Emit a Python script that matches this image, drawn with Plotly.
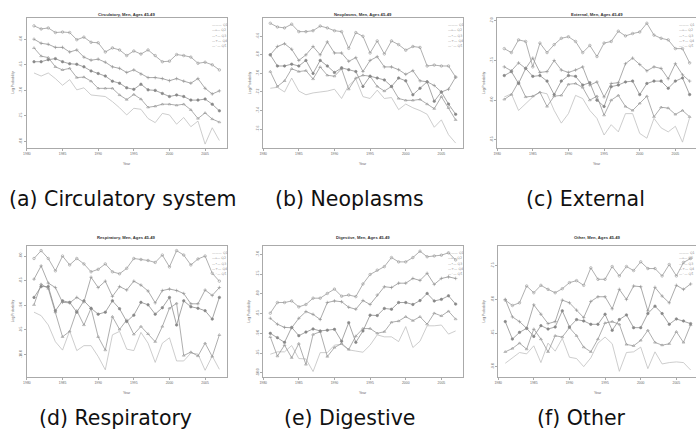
import plotly.graph_objects as go

W, H = 696, 440
years = list(range(1981, 2008))
quintiles = ["Q1", "Q2", "Q3", "Q4", "Q5"]
x_tickvals = [1980, 1985, 1990, 1995, 2000, 2005]

# ---------------- data (log probabilities) ----------------
circ_q1 = [-6.66,-6.72,-6.66,-6.77,-6.90,-6.79,-6.99,-6.95,-7.09,-7.11,-7.12,-7.22,-7.34,-7.48,-7.35,-7.37,-7.55,-7.63,-7.45,-7.48,-7.66,-7.53,-7.71,-7.60,-8.05,-7.73,-7.98]
circ_q2 = [-6.17,-6.33,-6.36,-6.54,-6.60,-6.57,-6.75,-6.74,-6.82,-6.96,-6.96,-6.96,-7.09,-7.18,-7.08,-7.17,-7.33,-7.31,-7.27,-7.27,-7.29,-7.27,-7.38,-7.55,-7.44,-7.56,-7.62]
circ_q3 = [-6.44,-6.44,-6.40,-6.38,-6.44,-6.48,-6.49,-6.54,-6.62,-6.67,-6.72,-6.82,-6.86,-6.95,-6.98,-6.88,-6.99,-7.00,-7.06,-7.12,-7.09,-7.12,-7.19,-7.19,-7.17,-7.27,-7.40]
circ_q4 = [-6.00,-6.08,-6.10,-6.16,-6.16,-6.25,-6.21,-6.35,-6.41,-6.39,-6.45,-6.54,-6.57,-6.65,-6.60,-6.68,-6.75,-6.75,-6.77,-6.81,-6.77,-6.82,-6.86,-6.77,-6.96,-7.07,-7.01]
circ_q5 = [-5.74,-5.80,-5.78,-5.87,-5.86,-5.87,-6.01,-5.96,-6.06,-6.07,-6.25,-6.17,-6.21,-6.32,-6.23,-6.29,-6.21,-6.32,-6.44,-6.43,-6.30,-6.32,-6.35,-6.47,-6.45,-6.50,-6.60]

neo_q1 = [-7.16,-7.15,-7.20,-7.05,-7.19,-7.23,-7.21,-7.20,-7.19,-7.17,-7.27,-7.13,-7.06,-7.25,-7.27,-7.18,-7.27,-7.26,-7.39,-7.33,-7.37,-7.40,-7.44,-7.58,-7.50,-7.66,-7.75]
neo_q2 = [-6.98,-7.14,-7.08,-6.95,-6.98,-6.97,-7.06,-6.93,-7.02,-7.03,-6.95,-7.17,-7.05,-7.02,-7.03,-7.14,-7.19,-7.14,-7.27,-7.29,-7.29,-7.28,-7.33,-7.38,-7.25,-7.37,-7.50]
neo_q3 = [-6.80,-6.92,-6.92,-6.90,-6.92,-6.86,-7.00,-6.86,-6.92,-6.99,-6.94,-6.96,-6.98,-7.14,-7.03,-7.05,-7.07,-7.14,-7.05,-7.08,-7.23,-7.16,-7.09,-7.30,-7.20,-7.33,-7.44]
neo_q4 = [-6.80,-6.71,-6.68,-6.74,-6.86,-6.80,-6.71,-6.80,-6.66,-6.78,-6.78,-6.87,-6.83,-6.98,-6.86,-6.82,-6.93,-6.93,-6.96,-7.01,-6.97,-7.08,-7.09,-7.13,-7.20,-7.17,-7.04]
neo_q5 = [-6.46,-6.50,-6.51,-6.47,-6.55,-6.55,-6.54,-6.49,-6.51,-6.54,-6.55,-6.73,-6.56,-6.60,-6.78,-6.65,-6.79,-6.65,-6.69,-6.75,-6.71,-6.72,-6.92,-6.91,-6.92,-6.92,-7.04]

ext_q1 = [-7.96,-7.92,-8.13,-8.04,-7.96,-7.90,-7.92,-8.13,-8.29,-8.17,-7.94,-7.98,-8.13,-8.23,-8.44,-8.31,-8.40,-8.17,-8.17,-8.42,-8.48,-8.23,-8.35,-8.40,-8.33,-8.53,-8.22]
ext_q2 = [-7.99,-7.93,-7.77,-7.96,-7.95,-7.90,-8.08,-7.95,-7.94,-7.80,-7.79,-7.84,-8.00,-7.95,-8.19,-8.00,-7.94,-8.08,-8.13,-8.04,-7.95,-8.21,-8.09,-8.10,-8.18,-8.13,-8.21]
ext_q3 = [-7.69,-7.64,-7.79,-7.60,-7.70,-7.69,-7.76,-7.93,-7.76,-7.69,-7.70,-7.81,-7.78,-8.00,-8.08,-7.83,-7.81,-7.77,-7.76,-7.93,-7.79,-7.76,-7.76,-7.85,-7.76,-7.72,-7.93]
ext_q4 = [-7.58,-7.63,-7.53,-7.60,-7.47,-7.65,-7.64,-7.50,-7.62,-7.65,-7.62,-7.58,-7.81,-7.77,-7.96,-7.79,-7.78,-7.54,-7.47,-7.55,-7.63,-7.58,-7.60,-7.73,-7.54,-7.68,-7.76]
ext_q5 = [-7.35,-7.40,-7.24,-7.26,-7.58,-7.28,-7.40,-7.30,-7.22,-7.20,-7.26,-7.40,-7.31,-7.45,-7.28,-7.26,-7.13,-7.19,-7.16,-7.14,-7.03,-7.18,-7.22,-7.24,-7.35,-7.35,-7.53]

resp_q1 = [-9.14,-9.21,-9.40,-9.74,-9.91,-9.52,-9.92,-9.82,-9.82,-10.04,-10.31,-9.60,-9.53,-9.89,-9.92,-9.55,-9.77,-10.16,-9.77,-9.66,-10.13,-10.13,-9.97,-9.99,-10.32,-10.03,-10.30]
resp_q2 = [-8.99,-8.57,-8.66,-9.14,-9.64,-9.53,-9.11,-9.40,-9.06,-9.64,-9.91,-9.23,-9.49,-9.30,-9.59,-9.43,-9.58,-9.74,-9.43,-9.06,-8.96,-10.02,-9.95,-10.03,-9.77,-10.04,-9.60]
resp_q3 = [-8.84,-8.62,-8.62,-9.11,-8.91,-8.94,-9.14,-8.91,-9.06,-9.18,-9.14,-8.91,-9.07,-9.33,-9.20,-8.94,-8.99,-9.18,-9.05,-8.84,-9.40,-8.91,-9.03,-9.06,-9.11,-9.28,-8.84]
resp_q4 = [-8.47,-8.20,-8.55,-8.64,-8.94,-8.95,-8.84,-8.93,-8.43,-8.64,-8.51,-8.82,-8.62,-8.69,-8.51,-8.59,-8.71,-8.95,-8.70,-8.67,-8.70,-8.76,-8.97,-8.97,-8.69,-8.80,-8.64]
resp_q5 = [-8.05,-7.89,-8.05,-8.30,-8.00,-8.18,-8.05,-8.16,-8.32,-8.27,-8.16,-8.32,-8.36,-8.25,-8.05,-8.07,-8.09,-8.13,-7.98,-8.22,-7.89,-7.98,-8.18,-8.06,-8.00,-8.35,-8.51]

dig_q1 = [-9.53,-9.47,-9.47,-9.31,-9.64,-9.65,-9.97,-9.49,-9.49,-9.30,-9.28,-9.42,-9.45,-9.48,-9.30,-9.04,-9.09,-9.09,-9.21,-8.83,-9.36,-9.20,-8.81,-8.81,-8.79,-9.02,-8.94]
dig_q2 = [-9.09,-9.58,-9.30,-9.62,-9.26,-9.79,-9.03,-8.96,-9.59,-9.36,-9.26,-9.41,-9.07,-8.88,-8.88,-9.00,-8.96,-8.72,-8.69,-8.58,-8.68,-8.58,-8.77,-8.49,-8.56,-8.44,-8.64]
dig_q3 = [-9.00,-9.11,-9.23,-8.85,-9.06,-8.97,-8.89,-8.94,-8.92,-8.90,-9.20,-8.73,-9.23,-8.94,-8.54,-8.55,-8.37,-8.39,-8.22,-8.22,-8.27,-8.17,-7.99,-8.18,-8.14,-8.05,-8.26]
dig_q4 = [-8.62,-8.77,-8.85,-8.86,-8.62,-8.45,-8.52,-8.65,-8.22,-8.18,-8.20,-8.34,-8.39,-8.17,-8.27,-8.03,-7.82,-7.84,-7.73,-7.73,-7.61,-7.66,-7.48,-7.76,-7.61,-7.57,-7.61]
dig_q5 = [-8.49,-8.22,-8.22,-8.18,-8.33,-8.27,-8.11,-8.11,-7.99,-7.88,-8.06,-8.03,-8.07,-7.75,-7.51,-7.40,-7.31,-7.08,-7.19,-7.19,-7.08,-6.92,-7.06,-7.04,-7.02,-6.96,-7.14]

oth_q1 = [-8.95,-8.87,-8.79,-8.81,-8.69,-8.94,-8.65,-8.77,-8.58,-8.86,-8.88,-9.00,-8.87,-8.65,-8.56,-8.66,-9.07,-8.79,-8.78,-8.71,-9.03,-8.78,-8.96,-8.94,-8.93,-8.94,-9.05]
oth_q2 = [-8.78,-8.73,-8.65,-8.74,-8.44,-8.59,-8.78,-8.54,-8.56,-8.42,-8.54,-8.71,-8.78,-8.59,-8.35,-8.33,-8.37,-8.67,-8.69,-8.61,-8.46,-8.64,-8.68,-8.66,-8.48,-8.64,-8.38]
oth_q3 = [-8.33,-8.59,-8.49,-8.43,-8.55,-8.39,-8.44,-8.41,-8.17,-8.41,-8.30,-8.32,-8.37,-8.37,-8.22,-8.46,-8.30,-8.23,-8.42,-8.42,-8.21,-8.10,-8.21,-8.37,-8.29,-8.32,-8.36]
oth_q4 = [-8.00,-8.26,-8.33,-8.43,-8.08,-8.22,-8.36,-8.33,-8.01,-8.05,-8.16,-8.27,-8.03,-7.96,-7.96,-8.14,-7.85,-8.00,-7.80,-7.81,-8.17,-7.82,-7.95,-8.05,-7.79,-7.85,-7.77]
oth_q5 = [-8.01,-8.09,-8.05,-7.80,-7.90,-7.79,-7.85,-7.90,-7.84,-7.75,-7.72,-7.79,-7.53,-7.70,-7.70,-7.51,-7.65,-7.51,-7.57,-7.44,-7.54,-7.54,-7.65,-7.48,-7.65,-7.45,-7.39]

titles = ["Circulatory, Men, Ages 45-49", "Neoplasms, Men, Ages 45-49", "External, Men, Ages 45-49",
          "Respiratory, Men, Ages 45-49", "Digestive, Men, Ages 45-49", "Other, Men, Ages 45-49"]
captions = ["(a) Circulatory system", "(b) Neoplasms", "(c) External",
            "(d) Respiratory", "(e) Digestive", "(f) Other"]
series = [
    [circ_q1, circ_q2, circ_q3, circ_q4, circ_q5],
    [neo_q1, neo_q2, neo_q3, neo_q4, neo_q5],
    [ext_q1, ext_q2, ext_q3, ext_q4, ext_q5],
    [resp_q1, resp_q2, resp_q3, resp_q4, resp_q5],
    [dig_q1, dig_q2, dig_q3, dig_q4, dig_q5],
    [oth_q1, oth_q2, oth_q3, oth_q4, oth_q5],
]
y_ticks = [
    [-6.0, -6.5, -7.0, -7.5, -8.0],
    [-6.6, -6.8, -7.0, -7.2, -7.4, -7.6],
    [-7.0, -7.5, -8.0, -8.5],
    [-8.0, -8.5, -9.0, -9.5, -10.0],
    [-7.0, -7.5, -8.0, -8.5, -9.0, -9.5, -10.0],
    [-7.5, -8.0, -8.5, -9.0],
]
y_ranges = [[-8.12, -5.58], [-7.80, -6.40], [-8.60, -6.96],
            [-10.45, -7.79], [-10.10, -6.78], [-9.15, -7.20]]

# ---------------- layout geometry (pixels) ----------------
PPY = 7.16  # pixels per year
geo = [
    dict(x0=23.7, y0=17.7, y1=147.7, cap_x=120, cap_y=199, title_y=14),
    dict(x0=261.0, y0=17.7, y1=147.7, cap_x=348, cap_y=199, title_y=14),
    dict(x0=496.0, y0=17.7, y1=147.7, cap_x=585, cap_y=199, title_y=14),
    dict(x0=23.7, y0=245.7, y1=376.7, cap_x=113, cap_y=418, title_y=237),
    dict(x0=261.0, y0=245.7, y1=376.7, cap_x=348, cap_y=418, title_y=237),
    dict(x0=497.0, y0=245.7, y1=376.7, cap_x=581, cap_y=418, title_y=237),
]
line_colors = ["#bcbcbc", "#939393", "#888888", "#8f8f8f", "#969696"]
symbols = [None, "triangle-up-open", "circle", "cross-thin-open", "circle-open"]
legend_glyph = ["———", "—▵—", "—•—", "—+—", "—◦—"]

def fx(p):
    return p / W

def fy(p):
    return 1 - p / H

fig = go.Figure()
annotations = []
tick_font = dict(family="Liberation Sans, Arial", size=3.4, color="#666")

for i in range(6):
    g = geo[i]
    full_w = 28.08 * PPY
    x1 = min(g["x0"] + full_w, W)
    xr = [1979.96, 1979.96 + (x1 - g["x0"]) / PPY]
    cut = (g["x0"] + full_w) > W
    ax = "" if i == 0 else str(i + 1)
    for q in range(5):
        tr = dict(x=years, y=series[i][q], name=quintiles[q], showlegend=False,
                  xaxis="x" + ax, yaxis="y" + ax,
                  line=dict(color=line_colors[q], width=0.75))
        if symbols[q] is None:
            tr["mode"] = "lines"
        else:
            tr["mode"] = "lines+markers"
            tr["marker"] = dict(symbol=symbols[q], size=2.5, color=line_colors[q],
                                line=dict(color=line_colors[q], width=0.6))
        fig.add_trace(go.Scatter(**tr))

    xa = dict(domain=[fx(g["x0"]), fx(x1)], range=xr, anchor="y" + ax,
              tickvals=x_tickvals, ticktext=[str(v) for v in x_tickvals],
              ticks="outside", ticklen=2, tickwidth=0.6, tickcolor="#aaa",
              showline=True, linecolor="#aaaaaa", linewidth=0.8, mirror=True,
              showgrid=False, zeroline=False, tickfont=tick_font)
    ya = dict(domain=[fy(g["y1"]), fy(g["y0"])], range=y_ranges[i], anchor="x" + ax,
              tickvals=y_ticks[i], ticktext=["%.1f" % v for v in y_ticks[i]],
              tickangle=-90, ticks="outside", ticklen=2, tickwidth=0.6, tickcolor="#aaa",
              showline=True, linecolor="#aaaaaa", linewidth=0.8, mirror=not cut,
              showgrid=False, zeroline=False, tickfont=tick_font)
    fig.update_layout(**{"xaxis" + ax: xa, "yaxis" + ax: ya})

    cx = g["x0"] + full_w / 2
    cy = (g["y0"] + g["y1"]) / 2
    common = dict(xref="paper", yref="paper", showarrow=False,
                  xanchor="center", yanchor="middle")
    annotations.append(dict(text="<b>%s</b>" % titles[i], x=fx(cx), y=fy(g["title_y"]),
                            font=dict(family="Liberation Sans, Arial", size=4.2, color="#333"),
                            **common))
    annotations.append(dict(text="Year", x=fx(cx), y=fy(g["y1"] + 16.3),
                            font=dict(family="Liberation Sans, Arial", size=3.6, color="#666"),
                            **common))
    annotations.append(dict(text="Log Probability", x=fx(g["x0"] - 13.5), y=fy(cy),
                            textangle=-90,
                            font=dict(family="Liberation Sans, Arial", size=3.4, color="#666"),
                            **common))
    annotations.append(dict(text=captions[i], x=fx(g["cap_x"]), y=fy(g["cap_y"]),
                            font=dict(family="DejaVu Sans", size=20.5, color="#111"),
                            **common))
    # small legend in the top right corner of each panel
    lx = min(g["x0"] + full_w - 17, W - 19)
    for q in range(5):
        annotations.append(dict(text="%s %s" % (legend_glyph[q], quintiles[q]),
                                x=fx(lx), y=fy(g["y0"] + 7 + 5.4 * q),
                                xref="paper", yref="paper", showarrow=False,
                                xanchor="left", yanchor="middle",
                                font=dict(family="DejaVu Sans", size=3.3, color="#888")))

fig.update_layout(width=W, height=H, margin=dict(l=0, r=0, t=0, b=0),
                  paper_bgcolor="white", plot_bgcolor="white",
                  annotations=annotations, showlegend=False)
fig.write_html("out.html", config={"displayModeBar": False},
               post_script="document.body.style.margin='0';")
